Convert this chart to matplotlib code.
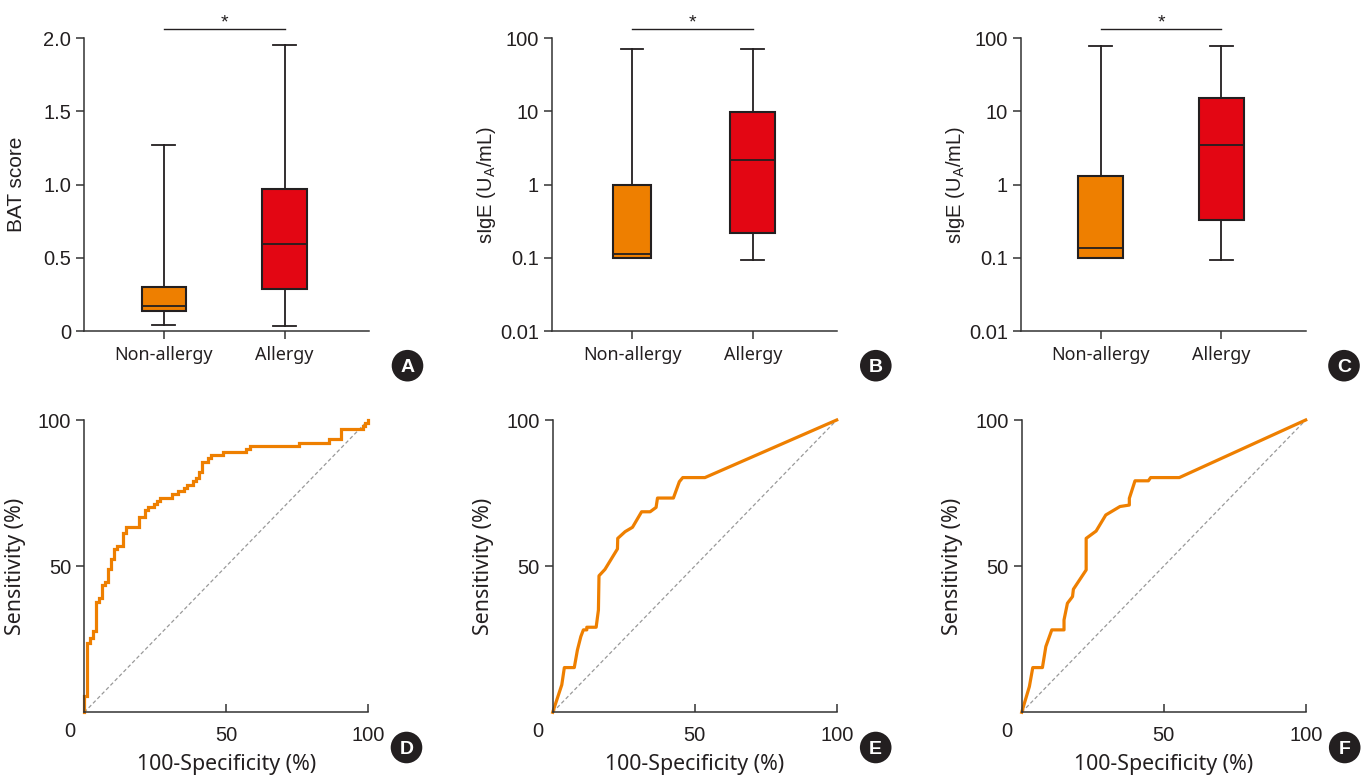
import matplotlib
matplotlib.use('Agg')
import matplotlib.pyplot as plt
from matplotlib.patches import Ellipse

# datos: min, q1, mediana, q3, max
grupos = ['Non-allergy', 'Allergy']
bat_no = [0.04, 0.137, 0.173, 0.298, 1.27]
bat_si = [0.036, 0.287, 0.594, 0.971, 1.954]
sige_b_no = [0.1, 0.1, 0.113, 1.0, 71.5]
sige_b_si = [0.093, 0.221, 2.18, 9.75, 71.5]
sige_c_no = [0.1, 0.1, 0.137, 1.31, 77.6]
sige_c_si = [0.093, 0.327, 3.49, 15.1, 77.6]

# curvas ROC (100-especificidad, sensibilidad)
roc_d_x = [0, 0, 0.8, 2.0, 3.0, 4.1, 5.2, 6.2, 7.4, 8.3, 9.3, 10.5, 11.6, 13.7, 14.7, 19.2, 21.3, 22.4,
           24.5, 25.7, 26.7, 30.9, 33.0, 35.1, 36.1, 38.4, 39.4, 40.4, 41.3, 43.4, 44.6, 48.9, 57.0,
           58.4, 75.6, 86.3, 90.5, 98.0, 98.9, 100]
roc_d_y = [0, 5.6, 23.6, 25.5, 27.9, 37.8, 39.0, 43.5, 44.5, 48.9, 52.3, 55.8, 56.9, 61.2, 63.5, 66.7,
           69.2, 70.1, 71.3, 72.4, 73.4, 74.6, 75.7, 76.8, 77.9, 79.1, 80.2, 82.3, 85.5, 86.9, 88.0,
           88.9, 90.0, 91.1, 92.2, 93.5, 96.8, 97.9, 99.1, 100]
roc_e_x = [0, 3.2, 4.1, 7.6, 8.7, 9.9, 10.8, 12.0, 12.0, 15.3, 16.1, 16.3, 18.4, 22.8, 22.9, 25.5,
           28.1, 31.3, 34.3, 36.4, 36.9, 42.5, 44.6, 45.8, 53.6, 100]
roc_e_y = [0, 9.4, 15.3, 15.3, 21.3, 25.9, 28.2, 28.2, 29.1, 29.1, 35.0, 46.7, 48.9, 55.9, 59.5, 61.8,
           63.3, 68.6, 68.6, 70.1, 73.3, 73.3, 78.9, 80.3, 80.3, 100]
roc_f_x = [0, 2.7, 3.9, 7.3, 8.5, 10.6, 14.9, 14.9, 16.1, 17.9, 18.2, 22.7, 22.7, 26.2, 29.6, 34.6,
           37.9, 37.9, 39.9, 44.6, 45.4, 55.5, 100]
roc_f_y = [0, 8.8, 15.3, 15.3, 22.5, 28.2, 28.2, 31.6, 37.3, 39.6, 42.1, 48.7, 59.5, 62.0, 67.5, 70.4,
           70.9, 73.2, 79.2, 79.2, 80.3, 80.3, 100]

NARANJA = '#EE7F00'
ROJO = '#E30613'
NEGRO = '#231F20'

plt.rcParams['font.family'] = ['Liberation Sans', 'DejaVu Sans']
plt.rcParams['mathtext.fontset'] = 'custom'
plt.rcParams['mathtext.rm'] = 'Liberation Sans'

W, H = 1368, 780
fig = plt.figure(figsize=(13.68, 7.80), dpi=100)


def ejes(izq, der, arr, aba):
  ax = fig.add_axes([izq / W, 1 - aba / H, (der - izq) / W, (aba - arr) / H])
  ax.spines['top'].set_visible(False)
  ax.spines['right'].set_visible(False)
  for s in ['left', 'bottom']:
    ax.spines[s].set_color('#333333')
    ax.spines[s].set_linewidth(1.1)
  ax.tick_params(colors='#333333', labelcolor=NEGRO, labelsize=14.5, length=6, width=1.1)
  return ax


def cajas(ax, no, si, anchos, log=False):
  stats = []
  for nombre, v in zip(grupos, [no, si]):
    stats.append(dict(label=nombre, whislo=v[0], q1=v[1], med=v[2], q3=v[3], whishi=v[4]))
  lp = dict(color=NEGRO, linewidth=1.3)
  bp = ax.bxp(stats, positions=[1, 2], widths=anchos, capwidths=0.19, patch_artist=True,
              showfliers=False, boxprops=dict(edgecolor=NEGRO, linewidth=1.5),
              medianprops=lp, whiskerprops=lp, capprops=lp)
  for caja, col in zip(bp['boxes'], [NARANJA, ROJO]):
    caja.set_facecolor(col)
  if log:
    ax.set_yscale('log')
    ax.set_ylim(0.01, 100)
    ax.set_yticks([0.01, 0.1, 1, 10, 100])
    ax.set_yticklabels(['0.01', '0.1', '1', '10', '100'])
    ax.minorticks_off()
    ax.set_ylabel(r'sIgE (U$_\mathrm{A}$/mL)', fontsize=14.5, color=NEGRO)
    ax.yaxis.set_label_coords(-0.19, 0.5)
  else:
    ax.set_ylim(0, 2.0)
    ax.set_yticks([0, 0.5, 1.0, 1.5, 2.0])
    ax.set_yticklabels(['0', '0.5', '1.0', '1.5', '2.0'])
    ax.set_ylabel('BAT score', fontsize=15, color=NEGRO)
    ax.yaxis.set_label_coords(-0.205, 0.5)
  ax.set_xlim(0.34, 2.70)
  ax.set_xticks([1, 2])
  ax.set_xticklabels(grupos, fontfamily='Noto Sans', fontsize=12.9)
  ax.tick_params(axis='x', pad=5)
  # barra de significancia
  tr = ax.get_xaxis_transform()
  ax.plot([1, 2], [1.031, 1.031], transform=tr, clip_on=False, color=NEGRO, lw=1.0)
  ax.text(1.5, 1.036, '*', transform=tr, ha='center', va='baseline', fontsize=14, color=NEGRO)


def roc(ax, x, y, escalon=False):
  ax.plot([0, 100], [0, 100], color='#999999', lw=0.9, ls=(0, (3, 2)))
  if escalon:
    ax.plot(x, y, color=NARANJA, lw=2.3, drawstyle='steps-post', clip_on=False, solid_joinstyle='miter')
  else:
    ax.plot(x, y, color=NARANJA, lw=2.3, clip_on=False)
  ax.set_xlim(0, 100)
  ax.set_ylim(0, 100)
  ax.set_xticks([50, 100])
  ax.set_yticks([50, 100])
  ax.tick_params(axis='x', direction='in', pad=10)
  ax.annotate('0', xy=(0, 0), xycoords='axes fraction', xytext=(-10.5, -14), textcoords='offset points',
              ha='center', va='center', fontsize=14.5, color=NEGRO)
  ax.set_ylabel('Sensitivity (%)', fontfamily='Noto Sans', fontsize=15.4, color=NEGRO)
  ax.yaxis.set_label_coords(-0.205, 0.5)
  ax.set_xlabel('100-Specificity (%)', fontfamily='Noto Sans', fontsize=15.4, color=NEGRO)
  ax.xaxis.set_label_coords(0.5, -0.143)


def letra(cx, cy, txt):
  r = 15.8
  fig.add_artist(Ellipse((cx / W, 1 - cy / H), 2 * r / W, 2 * r / H, transform=fig.transFigure,
                         facecolor=NEGRO, edgecolor='none'))
  fig.text(cx / W, 1 - cy / H, txt, ha='center', va='center_baseline', color='white',
           fontsize=14, fontweight='bold')


axA = ejes(84.3, 369, 38.3, 331)
cajas(axA, bat_no, bat_si, [0.37, 0.37])
axB = ejes(552.3, 837.3, 38.3, 331)
cajas(axB, sige_b_no, sige_b_si, [0.31, 0.37], log=True)
axC = ejes(1021, 1306, 38.3, 331)
cajas(axC, sige_c_no, sige_c_si, [0.37, 0.37], log=True)

axD = ejes(84.3, 368.3, 420, 712.3)
roc(axD, roc_d_x, roc_d_y, escalon=True)
axE = ejes(552.7, 836.7, 420, 712.3)
roc(axE, roc_e_x, roc_e_y)
axF = ejes(1021.7, 1305.7, 420, 712.3)
roc(axF, roc_f_x, roc_f_y)

for cx, cy, t in [(407.5, 365.7, 'A'), (875.8, 365.7, 'B'), (1344, 365.7, 'C'),
                  (406.5, 747.5, 'D'), (875.7, 747.5, 'E'), (1344.7, 747.5, 'F')]:
  letra(cx, cy, t)

plt.savefig('out.png', dpi=100)
